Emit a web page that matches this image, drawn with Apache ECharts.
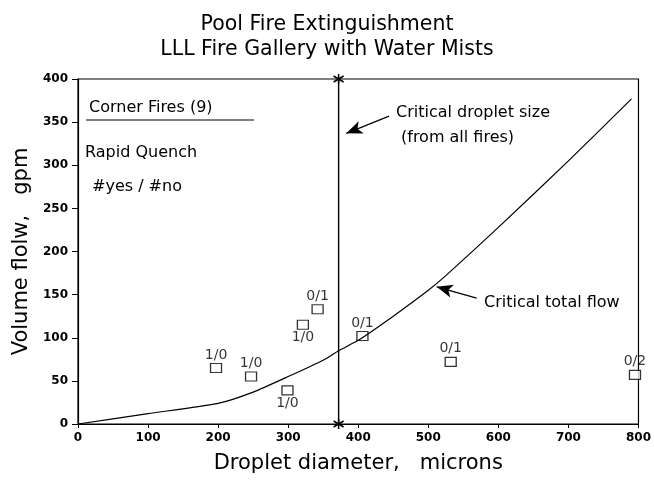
<!DOCTYPE html>
<html>
<head>
<meta charset="utf-8">
<script src="https://cdn.jsdelivr.net/npm/echarts@6/dist/echarts.min.js"></script>
<style>
  html, body { margin: 0; padding: 0; background: #fff; }
  #chart { width: 654px; height: 483px; }
</style>
</head>
<body>
<div id="chart"></div>
<script>
// critical total flow curve (droplet diameter, gpm)
var curveX = [0, 100, 200, 250, 300, 350, 372, 400, 450, 500, 525, 600, 700, 790];
var curveY = [0, 12, 24, 37, 55, 74, 85, 97, 125, 155, 172, 228, 305, 377];

// test points (corner fires)
var pointX = [197, 247, 299, 321, 342, 406, 532, 795];
var pointY = [65, 55, 39, 115, 133, 102, 72, 57];
var pointText = ['1/0', '1/0', '1/0', '1/0', '0/1', '0/1', '0/1', '0/2'];
var labelSide = ['top', 'top', 'bottom', 'bottom', 'top', 'top', 'top', 'top'];

// critical droplet size
var criticalSize = 372;

var xTicks = [0, 100, 200, 300, 400, 500, 600, 700, 800];
var yTicks = [0, 50, 100, 150, 200, 250, 300, 350, 400];

var font = 'DejaVu Sans';
var noteFont = '16px "DejaVu Sans"';

var chart = echarts.init(document.getElementById('chart'));

var curveData = curveX.map(function (x, i) { return [x, curveY[i]]; });
var pointData = pointX.map(function (x, i) {
    return {
        value: [x, pointY[i]],
        label: { formatter: pointText[i], position: labelSide[i] }
    };
});

function note(x, y, text) {
    return { type: 'text', x: x, y: y, style: { text: text, font: noteFont, fill: '#000', align: 'left', verticalAlign: 'middle' } };
}

var option = {
    animation: false,
    title: {
        text: 'Pool Fire Extinguishment\nLLL Fire Gallery with Water Mists',
        left: 'center',
        top: 7,
        textStyle: { fontFamily: font, fontWeight: 'normal', fontSize: 20.5, lineHeight: 25, color: '#000' }
    },
    grid: {
        left: 78, right: 14, top: 79, bottom: 59,
        show: true, borderColor: '#000', borderWidth: 1.2, backgroundColor: 'transparent'
    },
    xAxis: {
        type: 'value',
        min: xTicks[0], max: xTicks[xTicks.length - 1], interval: 100,
        name: 'Droplet diameter,   microns',
        nameLocation: 'middle', nameGap: 29,
        nameTextStyle: { fontFamily: font, fontSize: 21, color: '#000' },
        axisLine: { lineStyle: { color: '#000', width: 1.2 } },
        axisTick: { show: true, length: 4, lineStyle: { color: '#000' } },
        axisLabel: { fontFamily: font, fontSize: 12, fontWeight: 'bold', color: '#000', margin: 8 },
        splitLine: { show: false }
    },
    yAxis: {
        type: 'value',
        min: yTicks[0], max: yTicks[yTicks.length - 1], interval: 50,
        name: 'Volume flolw,   gpm',
        nameLocation: 'middle', nameGap: 43,
        nameTextStyle: { fontFamily: font, fontSize: 21, color: '#000' },
        axisLine: { lineStyle: { color: '#000', width: 1.2 } },
        axisTick: { show: true, length: 6, lineStyle: { color: '#000' } },
        axisLabel: { fontFamily: font, fontSize: 12, fontWeight: 'bold', color: '#000', margin: 10 },
        splitLine: { show: false }
    },
    series: [
        {
            type: 'line',
            data: curveData,
            smooth: 0.2,
            showSymbol: false,
            lineStyle: { color: '#000', width: 1.2 },
            markLine: {
                silent: true,
                symbol: ['none', 'arrow'],
                symbolSize: [10, 16],
                label: { show: false },
                lineStyle: { color: '#000', width: 1.2, type: 'solid' },
                data: [
                    [{ coord: [444, 357] }, { coord: [383, 337] }],
                    [{ coord: [569, 146] }, { coord: [512, 159] }]
                ]
            }
        },
        {
            type: 'line',
            data: [[criticalSize, yTicks[0]], [criticalSize, yTicks[yTicks.length - 1]]],
            symbol: 'path://M0,-5L0,5M-4.5,-3L4.5,3M-4.5,3L4.5,-3',
            symbolSize: 10,
            itemStyle: { color: 'none', borderColor: '#000', borderWidth: 1.5 },
            lineStyle: { color: '#000', width: 1.4 }
        },
        {
            type: 'scatter',
            data: pointData,
            symbol: 'rect',
            symbolSize: [11, 9],
            itemStyle: { color: '#fff', borderColor: '#000', borderWidth: 1.2 },
            label: {
                show: true,
                fontFamily: font,
                fontSize: 14,
                color: '#000',
                distance: 1
            }
        }
    ],
    graphic: [
        note(89, 108, 'Corner Fires (9)'),
        { type: 'line', shape: { x1: 86, y1: 120, x2: 254, y2: 120 }, style: { stroke: '#000', lineWidth: 1 } },
        note(85, 153, 'Rapid Quench'),
        note(92, 187, '#yes / #no'),
        note(396, 113, 'Critical droplet size'),
        note(401, 138, '(from all fires)'),
        note(484, 303, 'Critical total flow')
    ]
};

chart.setOption(option);
</script>
</body>
</html>
